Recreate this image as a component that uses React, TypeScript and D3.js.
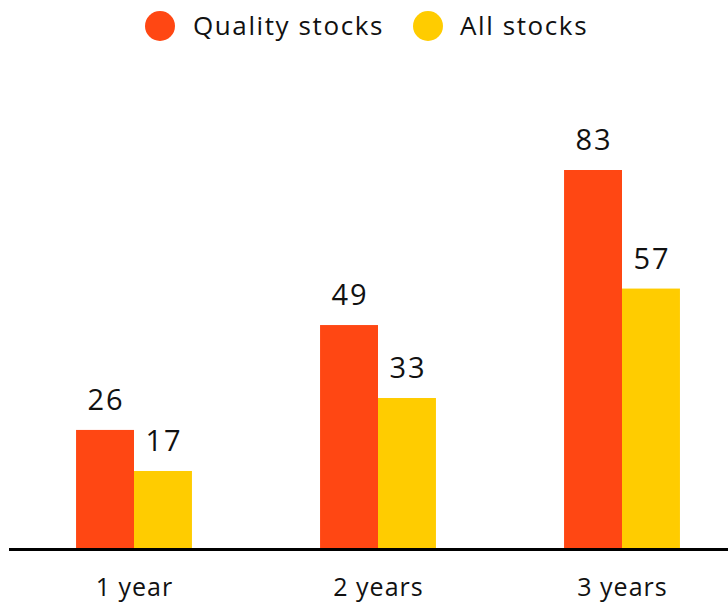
import React from "react";
import * as d3 from "d3";

const categories = ["1 year", "2 years", "3 years"];
const seriesNames = ["Quality stocks", "All stocks"];
const qualityValues = [26, 49, 83];
const allValues = [17, 33, 57];
const colors = ["#FF4713", "#FFCC00"];

const W = 728;
const H = 602;

export default function App() {
  const x = d3.scaleBand<string>().domain(categories).range([12, 744]).paddingInner(0.525).paddingOuter(0.2625);
  const inner = d3.scaleBand<string>().domain(seriesNames).range([0, x.bandwidth()]);
  const y = d3.scaleLinear().domain([0, 83]).range([548.5, 170]);
  const series = [qualityValues, allValues];
  const font = "'Open Sans', sans-serif";
  return (
    <div style={{ position: "absolute", left: 0, top: 0 }}>
      <svg width={W} height={H} style={{ display: "block" }}>
        <rect width={W} height={H} fill="#fff" />
        {/* legend */}
        <g fontFamily={font} fontSize={26} fill="#111" letterSpacing={1.6}>
          <circle cx={160} cy={26} r={15} fill={colors[0]} />
          <text x={193} y={35}>{seriesNames[0]}</text>
          <circle cx={428} cy={26} r={15} fill={colors[1]} />
          <text x={460} y={35}>{seriesNames[1]}</text>
        </g>
        {categories.map((c, i) => (
          <g key={c} transform={`translate(${x(c)},0)`}>
            {seriesNames.map((s, j) => {
              const v = series[j][i];
              const bx = inner(s)!;
              return (
                <g key={s}>
                  <rect x={bx} y={y(v)} width={inner.bandwidth()} height={y(0) - y(v)} fill={colors[j]} />
                  <text x={bx + inner.bandwidth() / 2 + 1} y={y(v) - 20} textAnchor="middle" fontFamily={font} fontSize={29} fill="#111" letterSpacing={2}>
                    {v}
                  </text>
                </g>
              );
            })}
            <text x={x.bandwidth() / 2 + 0.5} y={596} textAnchor="middle" fontFamily={font} fontSize={25} fill="#111" letterSpacing={1}>
              {c}
            </text>
          </g>
        ))}
        <line x1={9} x2={728} y1={y(0) + 1} y2={y(0) + 1} stroke="#000" strokeWidth={3} />
      </svg>
    </div>
  );
}
